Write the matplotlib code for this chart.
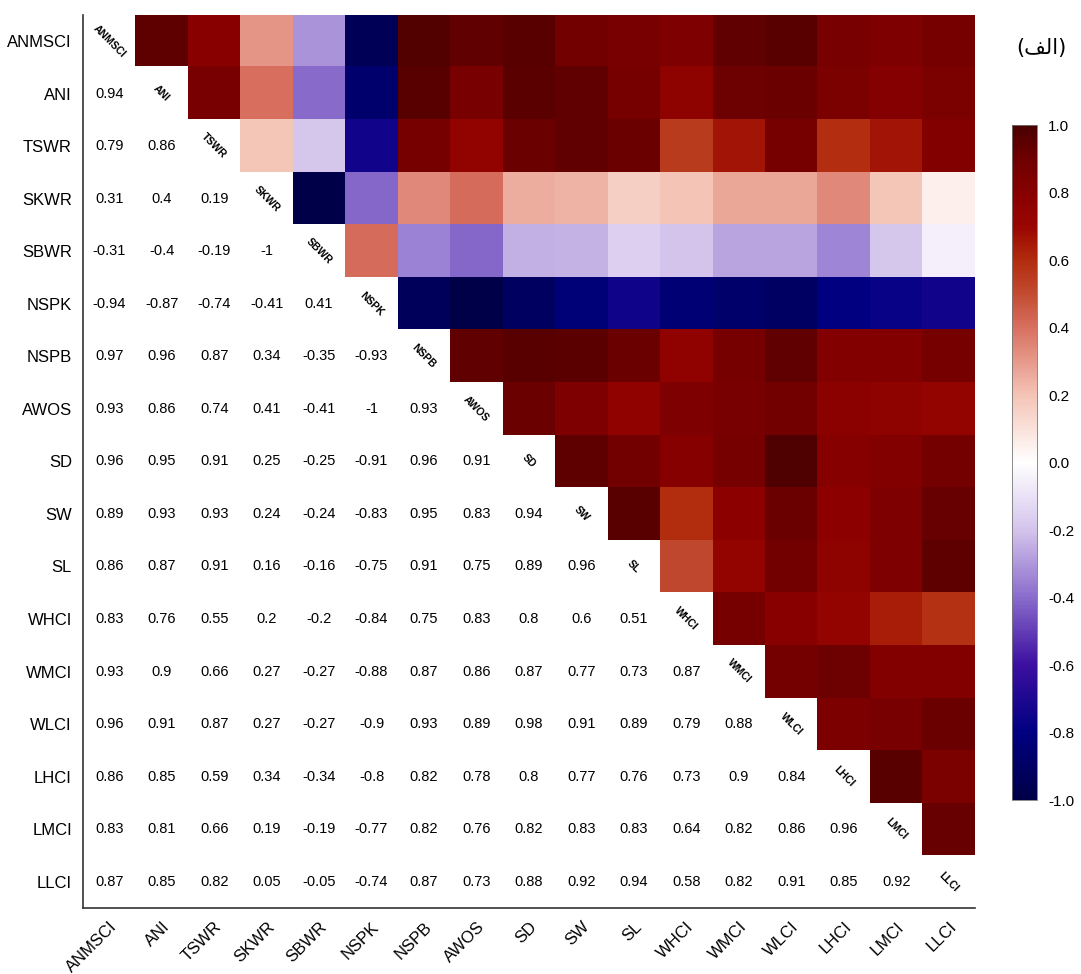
import numpy as np
import matplotlib
matplotlib.use('Agg')
import matplotlib.pyplot as plt
from matplotlib.colors import LinearSegmentedColormap

plt.rcParams['font.family'] = ['Liberation Sans', 'DejaVu Sans']

# 变量名
labels = ['ANMSCI', 'ANI', 'TSWR', 'SKWR', 'SBWR', 'NSPK', 'NSPB', 'AWOS', 'SD',
          'SW', 'SL', 'WHCI', 'WMCI', 'WLCI', 'LHCI', 'LMCI', 'LLCI']

# 下三角相关系数 (逐行)
lower = [
    [],
    [0.94],
    [0.79, 0.86],
    [0.31, 0.4, 0.19],
    [-0.31, -0.4, -0.19, -1],
    [-0.94, -0.87, -0.74, -0.41, 0.41],
    [0.97, 0.96, 0.87, 0.34, -0.35, -0.93],
    [0.93, 0.86, 0.74, 0.41, -0.41, -1, 0.93],
    [0.96, 0.95, 0.91, 0.25, -0.25, -0.91, 0.96, 0.91],
    [0.89, 0.93, 0.93, 0.24, -0.24, -0.83, 0.95, 0.83, 0.94],
    [0.86, 0.87, 0.91, 0.16, -0.16, -0.75, 0.91, 0.75, 0.89, 0.96],
    [0.83, 0.76, 0.55, 0.2, -0.2, -0.84, 0.75, 0.83, 0.8, 0.6, 0.51],
    [0.93, 0.9, 0.66, 0.27, -0.27, -0.88, 0.87, 0.86, 0.87, 0.77, 0.73, 0.87],
    [0.96, 0.91, 0.87, 0.27, -0.27, -0.9, 0.93, 0.89, 0.98, 0.91, 0.89, 0.79, 0.88],
    [0.86, 0.85, 0.59, 0.34, -0.34, -0.8, 0.82, 0.78, 0.8, 0.77, 0.76, 0.73, 0.9, 0.84],
    [0.83, 0.81, 0.66, 0.19, -0.19, -0.77, 0.82, 0.76, 0.82, 0.83, 0.83, 0.64, 0.82, 0.86, 0.96],
    [0.87, 0.85, 0.82, 0.05, -0.05, -0.74, 0.87, 0.73, 0.88, 0.92, 0.94, 0.58, 0.82, 0.91, 0.85, 0.92],
]

n = len(labels)
corr = np.eye(n)
for i, row in enumerate(lower):
    for j, v in enumerate(row):
        corr[i, j] = v
        corr[j, i] = v

# 颜色映射
anchors = [
    (-1.0, (0, 0, 72)), (-0.8, (0, 0, 130)), (-0.6, (60, 16, 160)),
    (-0.4, (138, 108, 204)), (-0.2, (212, 196, 236)), (0.0, (255, 255, 255)),
    (0.2, (244, 196, 182)), (0.4, (216, 112, 96)), (0.5, (194, 76, 50)),
    (0.6, (178, 44, 14)), (0.7, (154, 6, 0)), (0.8, (136, 0, 0)),
    (0.9, (112, 0, 0)), (1.0, (74, 0, 0)),
]
cmap = LinearSegmentedColormap.from_list(
    'corr', [((v + 1) / 2, tuple(c / 255 for c in rgb)) for v, rgb in anchors])

upper = np.ma.masked_where(np.tril(np.ones((n, n), dtype=bool)), corr)

fig = plt.figure(figsize=(10.81, 9.74), dpi=100)
ax = fig.add_axes([0.0768, 0.0678, 0.825, 0.917])
im = ax.imshow(upper, cmap=cmap, vmin=-1, vmax=1, aspect='auto',
               interpolation='nearest')

# 下三角数字和对角线标签
for i in range(n):
    for j in range(i):
        ax.text(j, i, f'{corr[i, j]:g}', ha='center', va='center', fontsize=10.5)
    ax.text(i, i, labels[i], ha='center', va='center', fontsize=7.5,
            fontweight='bold', rotation=-45)

ax.set_xlim(-0.5, n - 0.5)
ax.set_ylim(n - 0.5, -0.5)
ax.set_xticks(range(n))
ax.set_yticks(range(n))
ax.set_xticklabels(labels, rotation=45, ha='right', rotation_mode='anchor', fontsize=12)
ax.set_yticklabels(labels, fontsize=12)
ax.tick_params(length=0, pad=8)
for s in ['top', 'right']:
    ax.spines[s].set_visible(False)
for s in ['left', 'bottom']:
    ax.spines[s].set_linewidth(1.2)
    ax.spines[s].set_color('#333333')

cticks = np.round(np.arange(-1, 1.01, 0.2), 1)
cax = fig.add_axes([0.936, 0.1786, 0.0231, 0.693])
cb = fig.colorbar(im, cax=cax, ticks=cticks)
cb.ax.set_yticklabels([f'{t + 0.0:.1f}' for t in cticks], fontsize=11)
cb.ax.tick_params(length=0, pad=8)
cb.outline.set_linewidth(0.6)
cb.outline.set_edgecolor('#777777')

# (الف) 已按显示顺序写成连写形式
fig.text(0.963, 0.951, '(\ufed2\ufedf\u0627)', fontsize=15, ha='center', va='center',
         family=['DejaVu Sans'])

fig.savefig('out.png', dpi=100)
